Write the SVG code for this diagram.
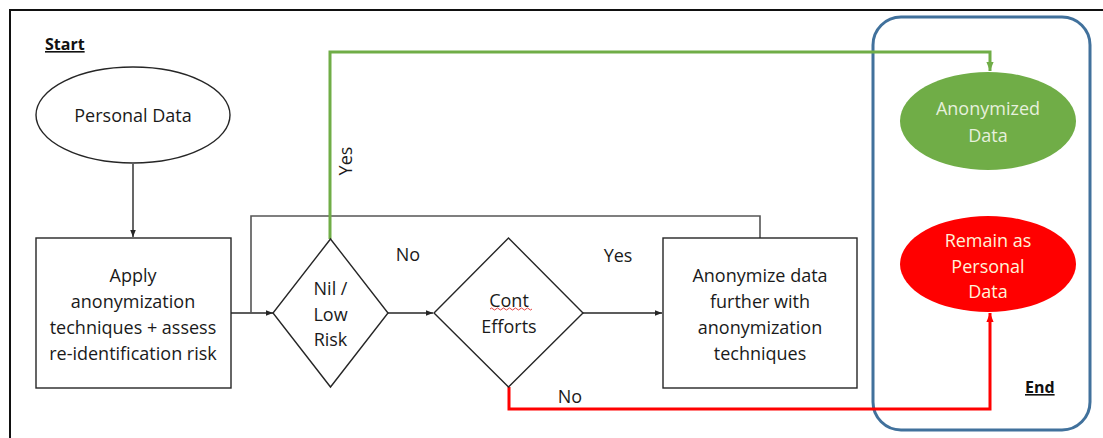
<svg xmlns="http://www.w3.org/2000/svg" width="1103" height="438" viewBox="0 0 1103 438">
  <defs>
    <style>
      .lbl { font-family: "Open Sans", "Liberation Sans", sans-serif; font-size: 18px; fill: #1a1a1a; text-anchor: middle; dominant-baseline: central; }
      .hdr { font-family: "Open Sans", "Liberation Sans", sans-serif; font-size: 16px; font-weight: bold; fill: #111; text-decoration: underline; }
      .box { fill: #ffffff; stroke: #262626; stroke-width: 1.4; }
      .wire { fill: none; stroke: #262626; stroke-width: 1.4; }
      .wire-loop { fill: none; stroke: #555555; stroke-width: 1.6; }
      .yes { fill: none; stroke: #70AD47; stroke-width: 3; }
      .no { fill: none; stroke: #FF0000; stroke-width: 3; }
    </style>
    <marker id="ah" viewBox="0 0 10 10" refX="10" refY="5" markerWidth="7" markerHeight="7" orient="auto" markerUnits="userSpaceOnUse">
      <path d="M0,1 L10,5 L0,9 z" fill="#262626"/>
    </marker>
    <marker id="ah-green" viewBox="0 0 10 10" refX="10" refY="5" markerWidth="9" markerHeight="9" orient="auto" markerUnits="userSpaceOnUse">
      <path d="M0,1 L10,5 L0,9 z" fill="#70AD47"/>
    </marker>
    <marker id="ah-red" viewBox="0 0 10 10" refX="10" refY="5" markerWidth="9" markerHeight="9" orient="auto" markerUnits="userSpaceOnUse">
      <path d="M0,1 L10,5 L0,9 z" fill="#FF0000"/>
    </marker>
  </defs>

  <rect width="1103" height="438" fill="#ffffff"/>

  <!-- page frame -->
  <path d="M10,438 V10 H1103" fill="none" stroke="#111" stroke-width="2"/>

  <!-- end zone -->
  <g id="end-zone">
    <rect x="873" y="17" width="217" height="413" rx="28" ry="28" fill="none" stroke="#41719C" stroke-width="3"/>
    <text class="hdr" x="1025" y="393">End</text>
  </g>

  <g id="start-label">
    <text class="hdr" x="45" y="50">Start</text>
  </g>

  <!-- connectors -->
  <g id="connectors">
    <path class="wire" d="M133,164 V237" marker-end="url(#ah)"/>
    <path class="wire" d="M231,313 H273" marker-end="url(#ah)"/>
    <path class="wire-loop" d="M251,313 V216 H760 V238"/>
    <path class="wire" d="M388,313 H433" marker-end="url(#ah)"/>
    <path class="wire" d="M583,313 H662" marker-end="url(#ah)"/>
    <path class="yes" d="M330,239 V52 H990 V71" marker-end="url(#ah-green)"/>
    <path class="no" d="M509,387 V409 H990 V313" marker-end="url(#ah-red)"/>
    <text class="lbl" transform="translate(345,161) rotate(-90)">Yes</text>
    <text class="lbl" x="408" y="254">No</text>
    <text class="lbl" x="618" y="255">Yes</text>
    <text class="lbl" x="570" y="396">No</text>
  </g>

  <g id="personal-data">
    <ellipse class="box" cx="133" cy="115" rx="97" ry="48"/>
    <text class="lbl" x="133" y="115">Personal Data</text>
  </g>

  <g id="apply-anonymization">
    <rect class="box" x="36" y="238" width="195" height="150"/>
    <text class="lbl" x="133" y="275">Apply</text>
    <text class="lbl" x="133" y="301">anonymization</text>
    <text class="lbl" x="133" y="327">techniques + assess</text>
    <text class="lbl" x="133" y="353">re-identification risk</text>
  </g>

  <g id="nil-low-risk">
    <polygon class="box" points="330.5,239 388,313 330.5,387 273,313"/>
    <text class="lbl" x="330.5" y="288">Nil /</text>
    <text class="lbl" x="330.5" y="314">Low</text>
    <text class="lbl" x="330.5" y="339">Risk</text>
  </g>

  <g id="cont-efforts">
    <polygon class="box" points="508.5,238 583,313 508.5,387 434,313"/>
    <text class="lbl" x="509" y="300">Cont</text>
    <path d="M490,309 q1.5,-2 3,0 t3,0 t3,0 t3,0 t3,0 t3,0 t3,0 t3,0 t3,0 t3,0 t3,0 t3,0 t3,0 t3,0" fill="none" stroke="#e03030" stroke-width="0.9"/>
    <text class="lbl" x="509" y="326">Efforts</text>
  </g>

  <g id="anonymize-further">
    <rect class="box" x="663" y="238" width="194" height="150"/>
    <text class="lbl" x="760" y="275">Anonymize data</text>
    <text class="lbl" x="760" y="301">further with</text>
    <text class="lbl" x="760" y="327">anonymization</text>
    <text class="lbl" x="760" y="353">techniques</text>
  </g>

  <g id="anonymized-data">
    <ellipse cx="988" cy="121" rx="88" ry="49" fill="#70AD47"/>
    <text class="lbl" x="988" y="108" style="fill:#E6F0DC">Anonymized</text>
    <text class="lbl" x="988" y="135" style="fill:#E6F0DC">Data</text>
  </g>

  <g id="remain-personal">
    <ellipse cx="988" cy="264" rx="88" ry="48" fill="#FF0000"/>
    <text class="lbl" x="988" y="240" style="fill:#FFF3D9">Remain as</text>
    <text class="lbl" x="988" y="266" style="fill:#FFF3D9">Personal</text>
    <text class="lbl" x="988" y="291" style="fill:#FFF3D9">Data</text>
  </g>
</svg>
